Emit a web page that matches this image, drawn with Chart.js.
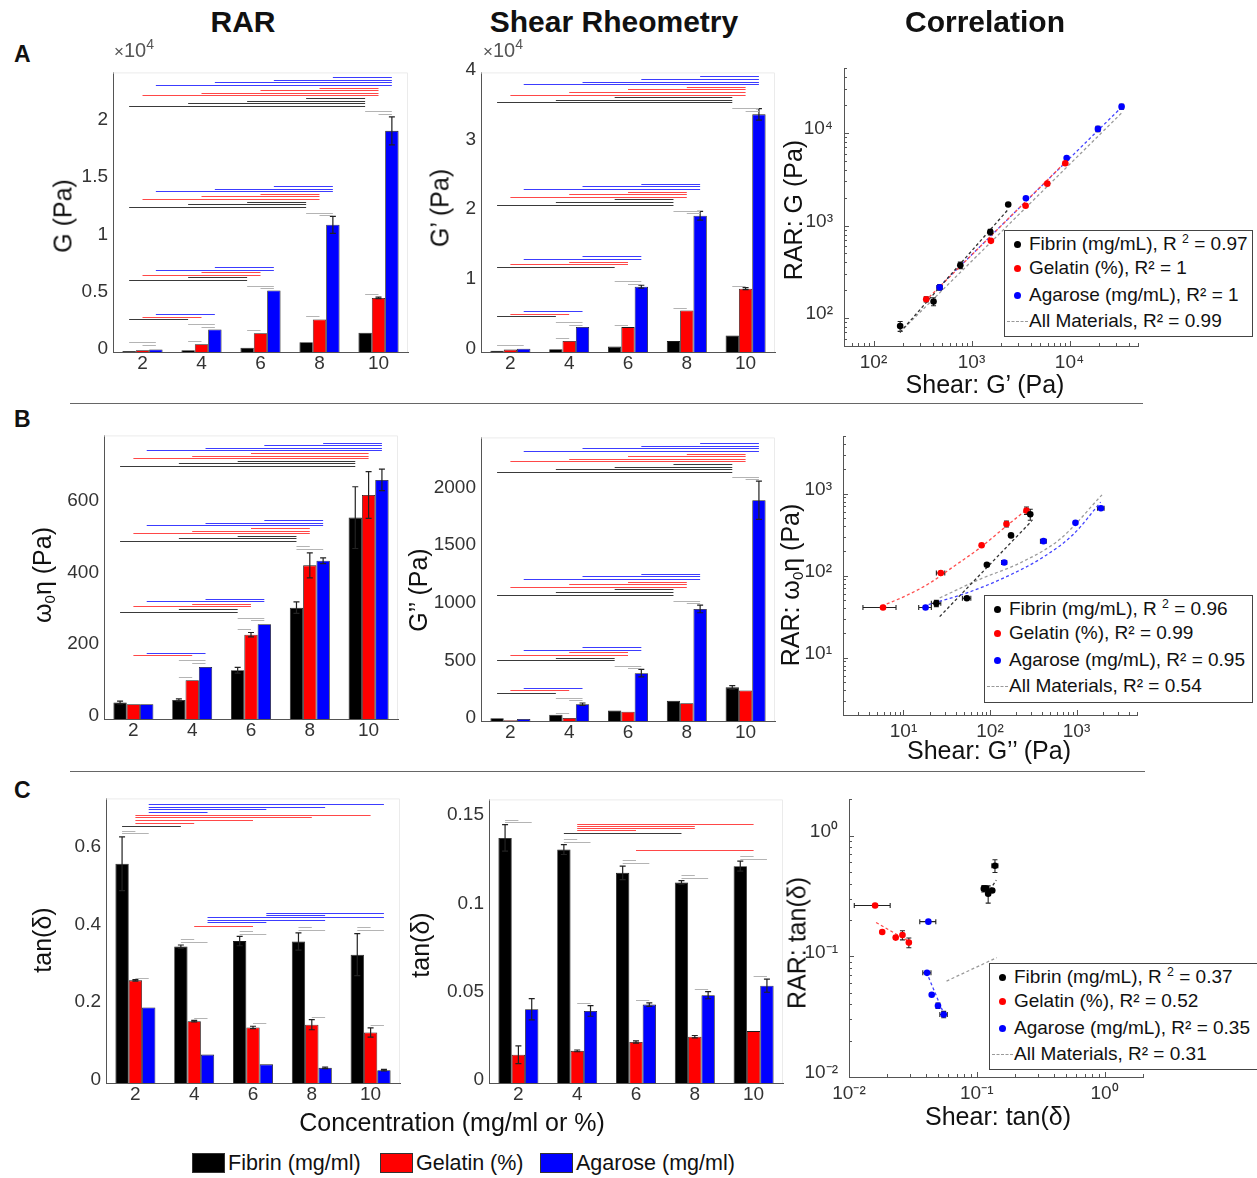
<!DOCTYPE html>
<html>
<head>
<meta charset="utf-8">
<title>RAR vs shear rheometry</title>
<script src="https://cdn.jsdelivr.net/npm/chart.js@4.4.1/dist/chart.umd.min.js"></script>
<style>
  body { margin: 0; background: #fff; }
  #fig { position: relative; width: 1257px; height: 1178px; overflow: hidden; background: #fff;
         font-family: "Liberation Sans", Arial, sans-serif; color: #111; }
  #fig canvas { position: absolute; z-index: 1; }
  .head { position: absolute; top: 5px; font-size: 30px; font-weight: bold; transform: translateX(-50%); white-space: nowrap; z-index: 2; }
  .letter { position: absolute; left: 14px; font-size: 23px; font-weight: bold; z-index: 2; }
  .rule { position: absolute; height: 1px; background: #666; z-index: 2; }
  .ylab { position: absolute; font-size: 25px; white-space: nowrap; transform: translate(-50%, -50%) rotate(-90deg); z-index: 2; }
  .xlab { position: absolute; font-size: 25px; white-space: nowrap; transform: translate(-50%, -50%); z-index: 2; }
  .ylab sub, .xlab sub { font-size: 0.6em; vertical-align: -0.3em; line-height: 0; }
  .mult { position: absolute; font-size: 20px; color: #555; white-space: nowrap; z-index: 2; }
  .mult sup { font-size: 14px; line-height: 0; }
  .box { position: absolute; border: 1.5px solid #444; background: #fff; font-size: 19px; box-sizing: border-box; z-index: 3; }
  .row { position: absolute; left: 0; right: 0; height: 26px; line-height: 26px; white-space: nowrap; }
  .row .txt { position: absolute; left: 24px; }
  .row sup { font-size: 0.65em; line-height: 0; vertical-align: 0.55em; }
  .dot { position: absolute; left: 9px; top: 10px; width: 7px; height: 7px; border-radius: 50%; }
  .dash { position: absolute; left: 2px; top: 13px; width: 21px; border-top: 1.5px dashed #999; }
  .key { position: absolute; top: 1151px; font-size: 21.5px; white-space: nowrap; z-index: 2; }
  .swatch { display: inline-block; width: 33px; height: 20px; vertical-align: -3px; margin-right: 3px; border: 1px solid #333; box-sizing: border-box; }
</style>
</head>
<body>
<div id="fig">
  <div class="head" style="left:243px">RAR</div>
  <div class="head" style="left:614px">Shear Rheometry</div>
  <div class="head" style="left:985px">Correlation</div>

  <div class="letter" style="top:41px">A</div>
  <div class="letter" style="top:406px">B</div>
  <div class="letter" style="top:777px">C</div>

  <div class="rule" style="left:70px;top:403px;width:1073px"></div>
  <div class="rule" style="left:70px;top:771px;width:1075px"></div>

  <div class="mult" style="left:114px;top:39px"><span style="font-size:17px">×</span>10<sup>4</sup></div>
  <div class="mult" style="left:483px;top:39px"><span style="font-size:17px">×</span>10<sup>4</sup></div>

  <div class="ylab" style="left:63px;top:216px">G (Pa)</div>
  <div class="ylab" style="left:440px;top:208px">G’ (Pa)</div>
  <div class="ylab" style="left:793px;top:210px">RAR: G (Pa)</div>
  <div class="xlab" style="left:985px;top:384px">Shear: G’ (Pa)</div>

  <div class="ylab" style="left:42px;top:575px">ω<sub>0</sub>η (Pa)</div>
  <div class="ylab" style="left:418px;top:590px">G’’ (Pa)</div>
  <div class="ylab" style="left:790px;top:585px">RAR: ω<sub>0</sub>η (Pa)</div>
  <div class="xlab" style="left:989px;top:750px">Shear: G’’ (Pa)</div>

  <div class="ylab" style="left:42px;top:940px">tan(δ)</div>
  <div class="ylab" style="left:420px;top:945px">tan(δ)</div>
  <div class="ylab" style="left:797px;top:943px">RAR: tan(δ)</div>
  <div class="xlab" style="left:998px;top:1116px">Shear: tan(δ)</div>

  <div class="xlab" style="left:452px;top:1122px">Concentration (mg/ml or %)</div>

  <div class="box" style="left:1004px;top:230px;width:249px;height:107px">
    <div class="row" style="top:0"><span class="dot" style="background:#000"></span><span class="txt">Fibrin (mg/mL), R <sup>2</sup> = 0.97</span></div>
    <div class="row" style="top:24px"><span class="dot" style="background:#f00"></span><span class="txt">Gelatin (%), R² = 1</span></div>
    <div class="row" style="top:51px"><span class="dot" style="background:#00f"></span><span class="txt">Agarose (mg/mL), R² = 1</span></div>
    <div class="row" style="top:77px"><span class="dash"></span><span class="txt">All Materials, R² = 0.99</span></div>
  </div>
  <div class="box" style="left:984px;top:595px;width:269px;height:108px">
    <div class="row" style="top:0"><span class="dot" style="background:#000"></span><span class="txt">Fibrin (mg/mL), R <sup>2</sup> = 0.96</span></div>
    <div class="row" style="top:24px"><span class="dot" style="background:#f00"></span><span class="txt">Gelatin (%), R² = 0.99</span></div>
    <div class="row" style="top:51px"><span class="dot" style="background:#00f"></span><span class="txt">Agarose (mg/mL), R² = 0.95</span></div>
    <div class="row" style="top:77px"><span class="dash"></span><span class="txt">All Materials, R² = 0.54</span></div>
  </div>
  <div class="box" style="left:989px;top:963px;width:276px;height:107px">
    <div class="row" style="top:0"><span class="dot" style="background:#000"></span><span class="txt">Fibrin (mg/mL), R <sup>2</sup> = 0.37</span></div>
    <div class="row" style="top:24px"><span class="dot" style="background:#f00"></span><span class="txt">Gelatin (%), R² = 0.52</span></div>
    <div class="row" style="top:51px"><span class="dot" style="background:#00f"></span><span class="txt">Agarose (mg/mL), R² = 0.35</span></div>
    <div class="row" style="top:77px"><span class="dash"></span><span class="txt">All Materials, R² = 0.31</span></div>
  </div>

  <div class="key" style="left:192px"><span class="swatch" style="background:#000"></span>Fibrin (mg/ml)</div>
  <div class="key" style="left:380px"><span class="swatch" style="background:#f00"></span>Gelatin (%)</div>
  <div class="key" style="left:540px"><span class="swatch" style="background:#00f"></span>Agarose (mg/ml)</div>
</div>

<script>
// concentrations (mg/ml for fibrin and agarose, % for gelatin)
const concentrations = ['2', '4', '6', '8', '10'];

// RAR shear modulus G (Pa)
const fibrinG = [82, 151, 373, 851, 1690];
const gelatinG = [160, 684, 1637, 2840, 4720];
const agaroseG = [215, 1972, 5370, 11100, 19300];
const fibrinGErr = [10, 15, 30, 60, 40];
const gelatinGErr = [10, 30, 60, 60, 70];
const agaroseGErr = [15, 40, 60, 740, 1220];

// shear rheometry storage modulus G' (Pa)
const fibrinGp = [187, 410, 769, 1556, 2370];
const gelatinGp = [345, 1578, 3565, 5930, 9060];
const agaroseGp = [473, 3590, 9350, 19500, 34000];
const fibrinGpErr = [10, 20, 30, 60, 60];
const gelatinGpErr = [10, 40, 60, 80, 150];
const agaroseGpErr = [30, 80, 200, 620, 830];

// RAR viscous term w0*eta (Pa)
const fibrinEta = [46, 53, 136, 310, 561];
const gelatinEta = [41, 108, 235, 428, 624];
const agaroseEta = [41, 145, 264, 441, 666];
const fibrinEtaErr = [4, 3, 8, 16, 86];
const gelatinEtaErr = [1, 2, 6, 35, 65];
const agaroseEtaErr = [1, 1, 2, 8, 30];

// shear rheometry loss modulus G'' (Pa)
const fibrinGpp = [24, 54, 92, 175, 292];
const gelatinGpp = [5.8, 27, 80, 155, 264];
const agaroseGpp = [18, 146, 415, 972, 1915];
const fibrinGppErr = [3, 6, 6, 6, 15];
const gelatinGppErr = [2.4, 3, 4, 6, 6];
const agaroseGppErr = [3, 10, 32, 33, 166];

// loss tangent from RAR
const fibrinTanR = [0.564, 0.351, 0.365, 0.364, 0.330];
const gelatinTanR = [0.264, 0.159, 0.143, 0.150, 0.130];
const agaroseTanR = [0.194, 0.073, 0.048, 0.039, 0.033];
const fibrinTanRErr = [0.069, 0.004, 0.012, 0.022, 0.054];
const gelatinTanRErr = [0.002, 0.002, 0.003, 0.013, 0.012];
const agaroseTanRErr = [0.001, 0.001, 0.001, 0.002, 0.002];

// loss tangent from shear rheometry
const fibrinTanS = [0.1388, 0.1322, 0.1190, 0.1136, 0.1228];
const gelatinTanS = [0.0160, 0.0182, 0.0232, 0.0262, 0.0294];
const agaroseTanS = [0.0418, 0.0408, 0.0444, 0.0497, 0.0551];
const fibrinTanSErr = [0.0075, 0.0028, 0.0038, 0.001, 0.0028];
const gelatinTanSErr = [0.005, 0.0005, 0.0006, 0.0007, 0.0003];
const agaroseTanSErr = [0.006, 0.003, 0.001, 0.002, 0.0037];

// regression curves [shear, RAR]
const fitFibrinG = [[186, 70], [2370, 1500]];
const fitGelatinG = [[337, 153], [9250, 4950]];
const fitAgaroseG = [[473, 221], [34800, 19500]];
const fitAllG = [[187, 71], [34800, 16900]];
const fitFibrinEta = [[26.2, 31.7], [303, 464]];
const fitGelatinEta = [[5.6, 42.6], [10.7, 57.1], [20, 80.9], [37.4, 128], [76.2, 218], [155, 404], [265, 640]];
const fitAgaroseEta = [[19.5, 44.5], [53.3, 61.4], [155, 97.3], [414, 169], [923, 321], [1900, 790]];
const fitAllEta = [[26.2, 53.5], [76.2, 90.4], [222, 143], [646, 280], [1970, 968]];
const fitFibrinTan = [[0.1265, 0.355], [0.142, 0.428]];
const fitGelatinTan = [[0.0163, 0.191], [0.0286, 0.1355]];
const fitAgaroseTan = [[0.0404, 0.0738], [0.0538, 0.0357]];
const fitAllTan = [[0.058, 0.0624], [0.1435, 0.0976]];

// y-axis tick values of the bar panels
const gTicks = [0, 5000, 10000, 15000, 20000];
const gpTicks = [0, 10000, 20000, 30000, 40000];
const etaTicks = [0, 200, 400, 600];
const gppTicks = [0, 500, 1000, 1500, 2000];
const tanRTicks = [0, 0.2, 0.4, 0.6];
const tanSTicks = [0, 0.05, 0.1, 0.15];

// significance brackets
// stairs: [compared-to group, base level, fibrin from-groups, gelatin from-groups, agarose from-groups]
// pairs:  [group, bar a, bar b, level]   (between materials, grey)
// runs:   [material, group a, group b, level]
const sigStairsG = [[4, 21480, [0, 1, 2, 3], [0, 1, 2, 3], [0, 1, 2, 3]], [3, 12670, [0, 1, 2], [0, 1, 2], [0, 1, 2]],
                    [2, 6290, [0, 1], [0, 1], [0, 1]], [1, 2870, [0], [0], [0]]];
const sigPairsG = [[0, 0, 2, 870], [0, 1, 2, 640], [1, 0, 1, 930], [1, 0, 2, 2430], [1, 1, 2, 2200], [2, 0, 1, 1880],
                   [2, 0, 2, 5800], [2, 1, 2, 5560], [3, 0, 1, 3100], [3, 0, 2, 12170], [3, 1, 2, 11940],
                   [4, 0, 1, 5040], [4, 0, 2, 21040], [4, 1, 2, 20810]];
const sigStairsGp = [[4, 35710, [0, 1, 2], [0, 1, 2, 3], [0, 1, 2, 3]], [3, 21100, [0, 1, 2], [0, 1, 2], [0, 1, 2]],
                     [2, 12190, [0], [0, 1], [0, 1]], [1, 5100, [0], [0], [0]]];
const sigPairsGp = [[0, 0, 2, 950], [1, 0, 1, 2000], [1, 0, 2, 4290], [1, 1, 2, 3900], [2, 0, 1, 3900], [2, 0, 2, 10100],
                    [2, 1, 2, 9750], [3, 0, 1, 6330], [3, 0, 2, 20200], [3, 1, 2, 19900], [4, 0, 1, 9380],
                    [4, 0, 2, 34860], [4, 1, 2, 34480]];
const sigStairsEta = [[4, 705, [0, 1, 2], [0, 1, 2], [0, 1, 2, 3]], [3, 496, [0, 1, 2], [0, 1, 2], [0, 1, 2]],
                      [2, 299, [0, 1], [0, 1], [0, 1]], [1, 178, [], [0], [0]]];
const sigPairsEta = [[1, 0, 1, 118], [1, 0, 2, 163], [1, 1, 2, 155], [2, 0, 1, 250], [2, 0, 2, 282], [2, 1, 2, 276],
                     [3, 0, 1, 481], [3, 0, 2, 474]];
const sigStairsGpp = [[4, 2162, [0, 1, 2, 3], [0, 1, 2, 3], [0, 1, 2, 3]], [3, 1097, [0, 1, 2], [0, 1, 2], [0, 1, 2]],
                      [2, 528, [0, 1], [0, 1], [0, 1]], [1, 245, [0], [0], [0]]];
const sigPairsGpp = [[1, 0, 1, 72], [1, 0, 2, 202], [1, 1, 2, 179], [2, 0, 2, 479], [2, 1, 2, 456], [3, 0, 2, 1045],
                     [3, 1, 2, 1024], [4, 0, 2, 2118], [4, 1, 2, 2095]];
const sigRunsTanR = [[0, 0, 1, 0.6615], [1, 0, 1, 0.6692], [1, 0, 2, 0.6761], [1, 0, 3, 0.683], [1, 0, 4, 0.6898],
                     [2, 0, 1, 0.6967], [2, 0, 2, 0.7036], [2, 0, 3, 0.7104], [2, 0, 4, 0.7173],
                     [1, 1, 2, 0.405], [2, 1, 2, 0.4144], [2, 1, 3, 0.4204], [2, 1, 4, 0.4264], [2, 2, 3, 0.4324], [2, 2, 4, 0.4384]];
const sigPairsTanR = [[0, 0, 1, 0.649], [0, 0, 2, 0.642], [0, 1, 2, 0.271], [1, 0, 1, 0.370], [1, 0, 2, 0.363],
                      [1, 1, 2, 0.166], [2, 0, 1, 0.390], [2, 0, 2, 0.384], [2, 1, 2, 0.154], [3, 0, 1, 0.400],
                      [3, 0, 2, 0.393], [3, 1, 2, 0.170], [4, 0, 1, 0.400], [4, 0, 2, 0.393], [4, 1, 2, 0.150]];
const sigRunsTanS = [[1, 1, 4, 0.1467], [1, 1, 3, 0.1454], [1, 1, 3, 0.1442], [1, 1, 2, 0.1430], [0, 1, 3, 0.1416], [1, 2, 4, 0.1322]];
const sigPairsTanS = [[0, 0, 1, 0.149], [0, 0, 2, 0.1476], [1, 0, 1, 0.138], [1, 0, 2, 0.1365], [2, 0, 1, 0.126],
                      [2, 0, 2, 0.1247], [3, 0, 1, 0.1177], [3, 0, 2, 0.1162], [4, 0, 1, 0.1286], [4, 0, 2, 0.1271],
                      [1, 1, 2, 0.0455], [2, 1, 2, 0.0469], [3, 1, 2, 0.0531], [4, 1, 2, 0.0606]];

const MAT_COLORS = ['#000000', '#ff0000', '#0000ff'];
const FIT_COLORS = ['#333333', '#ff4d4d', '#4444ff', '#9a9a9a'];
const SIG_COLORS = ['#3a3a3a', '#ff4848', '#3c3cff', '#b4b4b4'];
const STEP = 2.6;               // px between stacked brackets
const YW = 70, XH = 34, PT = 16, PR = 12;

Chart.defaults.font.family = '"Liberation Sans", Arial, sans-serif';
Chart.defaults.font.size = 19;
Chart.defaults.color = '#333';
Chart.defaults.animation = false;
Chart.defaults.plugins.legend.display = false;
Chart.defaults.plugins.tooltip.enabled = false;

const sigTable = {};

function stairs(list) {
  const out = [];
  list.forEach(([ref, base, ...froms]) => {
    let k = 0;
    froms.forEach((groups, s) => groups.forEach(g => {
      out.push({ c: s, g1: g, s1: s, g2: ref, s2: s, y: base, k: k++ });
    }));
  });
  return out;
}
function pairs(list) {
  return list.map(([g, a, b, y]) => ({ c: 3, g1: g, s1: a, g2: g, s2: b, y: y, k: 0 }));
}
function runs(list) {
  return list.map(([s, g1, g2, y]) => ({ c: s, g1: g1, s1: s, g2: g2, s2: s, y: y, k: 0 }));
}

// faint top/right frame of the bar axes
const faintBox = {
  id: 'faintBox',
  beforeDatasetsDraw(chart) {
    const ctx = chart.ctx, a = chart.chartArea;
    ctx.save();
    ctx.strokeStyle = '#ebebeb';
    ctx.lineWidth = 1;
    ctx.beginPath();
    ctx.moveTo(a.left, a.top + 0.5); ctx.lineTo(a.right - 0.5, a.top + 0.5); ctx.lineTo(a.right - 0.5, a.bottom);
    ctx.stroke();
    ctx.restore();
  }
};

// error bars on top of the bars
const barErrors = {
  id: 'barErrors',
  afterDatasetsDraw(chart) {
    const ctx = chart.ctx, ys = chart.scales.y;
    ctx.save();
    ctx.strokeStyle = '#222';
    ctx.lineWidth = 1.2;
    chart.data.datasets.forEach((ds, i) => {
      chart.getDatasetMeta(i).data.forEach((bar, j) => {
        const e = ds.errors[j], v = ds.data[j];
        const y1 = ys.getPixelForValue(v - e), y2 = ys.getPixelForValue(v + e);
        if (y1 - y2 < 1.5) return;
        ctx.beginPath();
        ctx.moveTo(bar.x, y1); ctx.lineTo(bar.x, y2);
        ctx.moveTo(bar.x - 3, y1); ctx.lineTo(bar.x + 3, y1);
        ctx.moveTo(bar.x - 3, y2); ctx.lineTo(bar.x + 3, y2);
        ctx.stroke();
      });
    });
    ctx.restore();
  }
};

// horizontal significance brackets between bar centres
const sigBars = {
  id: 'sigBars',
  afterDatasetsDraw(chart) {
    const lines = sigTable[chart.canvas.id];
    if (!lines) return;
    const ctx = chart.ctx, ys = chart.scales.y;
    ctx.save();
    ctx.lineWidth = 1;
    lines.forEach(l => {
      const xa = chart.getDatasetMeta(l.s1).data[l.g1].x;
      const xb = chart.getDatasetMeta(l.s2).data[l.g2].x;
      const py = Math.round(ys.getPixelForValue(l.y) - l.k * STEP) + 0.5;
      ctx.strokeStyle = SIG_COLORS[l.c];
      ctx.beginPath();
      ctx.moveTo(xa, py); ctx.lineTo(xb, py);
      ctx.stroke();
    });
    ctx.restore();
  }
};

// x/y error bars on the correlation points
const pointErrors = {
  id: 'pointErrors',
  beforeDatasetsDraw(chart) {
    const ctx = chart.ctx, xs = chart.scales.x, ys = chart.scales.y;
    ctx.save();
    ctx.strokeStyle = '#222';
    ctx.lineWidth = 1.1;
    chart.data.datasets.forEach(ds => {
      if (!ds.xErr) return;
      ds.data.forEach((p, j) => {
        const px = xs.getPixelForValue(p.x), py = ys.getPixelForValue(p.y);
        const x1 = xs.getPixelForValue(Math.max(p.x - ds.xErr[j], xs.min));
        const x2 = xs.getPixelForValue(p.x + ds.xErr[j]);
        const y1 = ys.getPixelForValue(Math.max(p.y - ds.yErr[j], ys.min));
        const y2 = ys.getPixelForValue(p.y + ds.yErr[j]);
        ctx.beginPath();
        if (x2 - x1 > 5) {
          ctx.moveTo(x1, py); ctx.lineTo(x2, py);
          ctx.moveTo(x1, py - 2.5); ctx.lineTo(x1, py + 2.5);
          ctx.moveTo(x2, py - 2.5); ctx.lineTo(x2, py + 2.5);
        }
        if (y1 - y2 > 5) {
          ctx.moveTo(px, y1); ctx.lineTo(px, y2);
          ctx.moveTo(px - 2.5, y1); ctx.lineTo(px + 2.5, y1);
          ctx.moveTo(px - 2.5, y2); ctx.lineTo(px + 2.5, y2);
        }
        ctx.stroke();
      });
    });
    ctx.restore();
  }
};

// inward tick marks on the log axes
const logTicks = {
  id: 'logTicks',
  afterDraw(chart) {
    const ctx = chart.ctx, a = chart.chartArea;
    ctx.save();
    ctx.strokeStyle = '#555';
    ctx.lineWidth = 1;
    ['x', 'y'].forEach(k => {
      const s = chart.scales[k];
      s.ticks.forEach(t => {
        const len = t.major ? 5 : 3;
        const p = Math.round(s.getPixelForValue(t.value)) + 0.5;
        ctx.beginPath();
        if (k === 'x') { ctx.moveTo(p, a.bottom); ctx.lineTo(p, a.bottom - len); }
        else { ctx.moveTo(a.left, p); ctx.lineTo(a.left + len, p); }
        ctx.stroke();
      });
    });
    ctx.restore();
  }
};

function place(id, rect) {
  const c = document.createElement('canvas');
  const w = rect[2] - rect[0] + YW + PR, h = rect[3] - rect[1] + PT + XH;
  c.id = id;
  c.width = w; c.height = h;
  c.style.left = (rect[0] - YW) + 'px';
  c.style.top = (rect[1] - PT) + 'px';
  c.style.width = w + 'px';
  c.style.height = h + 'px';
  document.getElementById('fig').appendChild(c);
  return c;
}

function barPanel(id, rect, series, errors, yMax, yTicks, yDiv, sig) {
  const canvas = place(id, rect);
  sigTable[id] = sig;
  return new Chart(canvas, {
    type: 'bar',
    data: {
      labels: concentrations,
      datasets: series.map((d, i) => ({
        data: d,
        errors: errors[i],
        backgroundColor: MAT_COLORS[i],
        borderColor: '#1a1a1a',
        borderWidth: 0.8,
        categoryPercentage: 0.68,
        barPercentage: 1.0
      }))
    },
    options: {
      responsive: false,
      devicePixelRatio: 1,
      layout: { padding: { top: PT, right: PR, left: 0, bottom: 0 } },
      scales: {
        x: {
          grid: { display: false, drawTicks: false },
          border: { color: '#555' },
          ticks: { padding: 0, font: { size: 19 } },
          afterFit: s => { s.height = XH; }
        },
        y: {
          min: 0, max: yMax,
          grid: { display: false, drawTicks: false },
          border: { color: '#555' },
          afterBuildTicks: s => { s.ticks = yTicks.map(v => ({ value: v })); },
          ticks: { padding: 5, labelOffset: -3,
                   callback: v => String(parseFloat((v / yDiv).toFixed(4))) },
          afterFit: s => { s.width = YW; }
        }
      }
    },
    plugins: [faintBox, barErrors, sigBars]
  });
}

const SUP = { '0': '⁰', '1': '¹', '2': '²', '3': '³', '4': '⁴', '-': '⁻' };
function powLabel(v) {
  const l = Math.log10(v), e = Math.round(l);
  if (Math.abs(l - e) > 1e-6) return '';
  return '10' + String(e).split('').map(ch => SUP[ch]).join('');
}
function logTickValues(min, max) {
  const out = [];
  for (let e = Math.floor(Math.log10(min)); e <= Math.ceil(Math.log10(max)); e++) {
    for (let m = 1; m < 10; m++) {
      const v = +(m * Math.pow(10, e)).toPrecision(6);
      if (v >= min * 0.9999 && v <= max * 1.0001) out.push({ value: v, major: m === 1 });
    }
  }
  return out;
}
function logAxis(min, max, horizontal) {
  return {
    type: 'logarithmic', min: min, max: max, position: horizontal ? 'bottom' : 'left',
    grid: { display: false, drawTicks: false },
    border: { color: '#555' },
    afterBuildTicks: s => { s.ticks = logTickValues(min, max); },
    ticks: { autoSkip: false, maxRotation: 0, minRotation: 0, padding: horizontal ? 5 : 11,
             labelOffset: horizontal ? 0 : -4, callback: v => powLabel(v) },
    afterFit: horizontal ? (s => { s.height = XH; }) : (s => { s.width = YW; })
  };
}

function corrPanel(id, rect, xr, yr, mats, fits) {
  const canvas = place(id, rect);
  const pts = mats.map((m, i) => ({
    data: m[0].map((v, j) => ({ x: v, y: m[1][j] })),
    xErr: m[2], yErr: m[3],
    backgroundColor: MAT_COLORS[i], borderColor: MAT_COLORS[i],
    pointRadius: 3.3, pointBorderWidth: 0
  }));
  const lines = fits.map((f, i) => ({
    data: f.map(p => ({ x: p[0], y: p[1] })),
    showLine: true, pointRadius: 0, fill: false,
    borderColor: FIT_COLORS[i], borderWidth: 1.3, borderDash: [3, 2.5],
    cubicInterpolationMode: 'monotone'
  }));
  return new Chart(canvas, {
    type: 'scatter',
    data: { datasets: pts.concat(lines) },
    options: {
      responsive: false,
      devicePixelRatio: 1,
      layout: { padding: { top: PT, right: PR, left: 0, bottom: 0 } },
      scales: { x: logAxis(xr[0], xr[1], true), y: logAxis(yr[0], yr[1], false) }
    },
    plugins: [pointErrors, logTicks]
  });
}

// row A: elastic modulus
barPanel('gRar', [113, 72, 408, 352], [fibrinG, gelatinG, agaroseG], [fibrinGErr, gelatinGErr, agaroseGErr],
         24400, gTicks, 10000, stairs(sigStairsG).concat(pairs(sigPairsG)));
barPanel('gShear', [481, 72, 775, 352], [fibrinGp, gelatinGp, agaroseGp], [fibrinGpErr, gelatinGpErr, agaroseGpErr],
         40000, gpTicks, 10000, stairs(sigStairsGp).concat(pairs(sigPairsGp)));
corrPanel('gCorr', [844, 62, 1138, 346], [50, 50000], [50, 50000],
          [[fibrinGp, fibrinG, fibrinGpErr, fibrinGErr], [gelatinGp, gelatinG, gelatinGpErr, gelatinGErr],
           [agaroseGp, agaroseG, agaroseGpErr, agaroseGErr]],
          [fitFibrinG, fitGelatinG, fitAgaroseG, fitAllG]);

// row B: viscous term
barPanel('etaRar', [104, 435, 398, 719], [fibrinEta, gelatinEta, agaroseEta], [fibrinEtaErr, gelatinEtaErr, agaroseEtaErr],
         790, etaTicks, 1, stairs(sigStairsEta).concat(pairs(sigPairsEta)));
barPanel('gppShear', [481, 437, 775, 721], [fibrinGpp, gelatinGpp, agaroseGpp], [fibrinGppErr, gelatinGppErr, agaroseGppErr],
         2460, gppTicks, 1, stairs(sigStairsGpp).concat(pairs(sigPairsGpp)));
corrPanel('etaCorr', [843, 430, 1137, 715], [2, 5000], [2, 5000],
          [[fibrinGpp, fibrinEta, fibrinGppErr, fibrinEtaErr], [gelatinGpp, gelatinEta, gelatinGppErr, gelatinEtaErr],
           [agaroseGpp, agaroseEta, agaroseGppErr, agaroseEtaErr]],
          [fitFibrinEta, fitGelatinEta, fitAgaroseEta, fitAllEta]);

// row C: loss tangent
barPanel('tanRar', [106, 798, 400, 1083], [fibrinTanR, gelatinTanR, agaroseTanR], [fibrinTanRErr, gelatinTanRErr, agaroseTanRErr],
         0.732, tanRTicks, 1, runs(sigRunsTanR).concat(pairs(sigPairsTanR)));
barPanel('tanShear', [489, 799, 783, 1083], [fibrinTanS, gelatinTanS, agaroseTanS], [fibrinTanSErr, gelatinTanSErr, agaroseTanSErr],
         0.1606, tanSTicks, 1, runs(sigRunsTanS).concat(pairs(sigPairsTanS)));
corrPanel('tanCorr', [849, 793, 1143, 1077], [0.01, 2], [0.01, 2],
          [[fibrinTanS, fibrinTanR, fibrinTanSErr, fibrinTanRErr], [gelatinTanS, gelatinTanR, gelatinTanSErr, gelatinTanRErr],
           [agaroseTanS, agaroseTanR, agaroseTanSErr, agaroseTanRErr]],
          [fitFibrinTan, fitGelatinTan, fitAgaroseTan, fitAllTan]);
</script>
</body>
</html>
